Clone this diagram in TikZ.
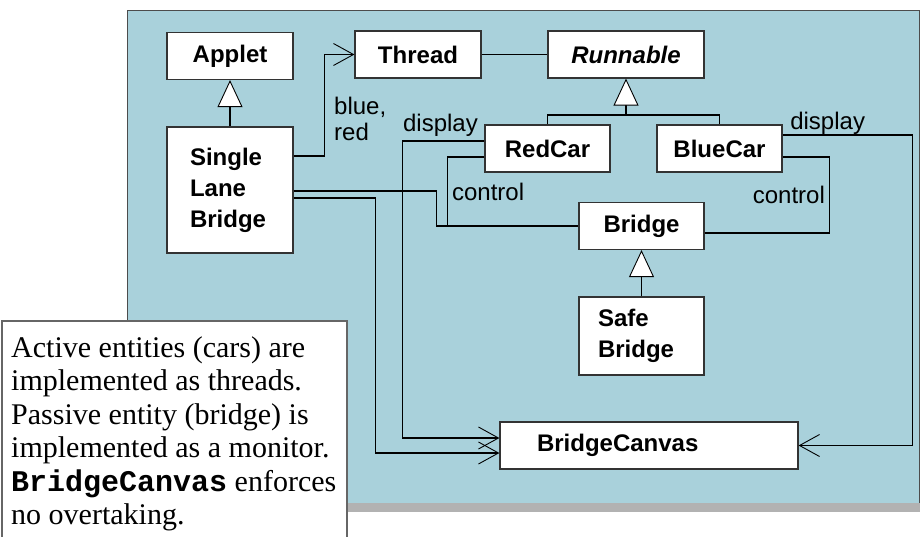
\documentclass[tikz,border=0pt]{standalone}
\usepackage{fontspec}
\setmainfont{Liberation Serif}
\setsansfont{Liberation Sans}
\setmonofont{Liberation Mono}
\usepackage{tikz}
\usetikzlibrary{arrows.meta, calc}
\definecolor{panelblue}{RGB}{169,209,219}

\begin{document}
\begin{tikzpicture}[
  x=1pt, y=-1pt,
  cls/.style={rectangle, draw=black!80, fill=white, line width=1.2pt,
    font=\sffamily\bfseries\fontsize{24}{31}\selectfont, inner sep=0pt,
    minimum width=126pt, minimum height=47pt},
  lbl/.style={font=\sffamily\fontsize{24}{26}\selectfont, inner sep=0pt, align=left},
  conn/.style={line width=1.4pt},
  assoc/.style={conn, -{Straight Barb[length=20pt, width=22pt, line width=0.9pt]}},
  inh/.style={conn, -{Triangle[length=27pt, width=25pt, fill=white, line width=0.9pt]}},
  note/.style={font=\fontsize{30}{33.5}\selectfont, align=left, inner sep=0pt}
]
\useasboundingbox (0,0) rectangle (920,537);
\clip (0,0) rectangle (920,537);
\fill[white] (0,0) rectangle (920,537);
\filldraw[fill=panelblue, draw=black!70, line width=1pt] (127,11) rectangle (919,503);
\fill[black!30] (127,503) rectangle (920,512);

\node[cls] (applet) at (230,56) {Applet};
\node[cls] (thread) at (418,54.5) {Thread};
\node[cls, minimum width=156pt] (runnable) at (626,54.5) {\itshape Runnable};
\node[cls, minimum height=126pt, text width=80pt, align=left] (slb) at (230,190) {Single\\Lane\\Bridge};
\node[cls, minimum width=125pt] (redcar) at (547.5,148.5) {RedCar};
\node[cls, minimum width=125pt] (bluecar) at (719.5,148.5) {BlueCar};
\node[cls, minimum width=125pt] (bridge) at (641.5,226) {Bridge};
\node[cls, minimum width=125pt, minimum height=78pt, text width=87pt, align=left] (safe) at (641.5,336) {Safe\\Bridge};
\node[cls, minimum width=298pt, text width=224pt, align=left] (canvas) at (649,445.5) {BridgeCanvas};
\coordinate (rjoin) at (626,115);

\draw[inh] (slb) -- (applet);
\draw[inh] (safe) -- (bridge);
\draw[conn] (redcar.north) |- (rjoin) -| (bluecar.north);
\draw[inh] (rjoin) -- (runnable);
\draw[conn] (thread) -- (runnable);

\draw[assoc] ([yshift=34pt]slb.east) -- ++(31,0) |- (thread.west);
\node[lbl, anchor=north west] (bluered) at (334,97) {blue,\\red};
\draw[conn] ([yshift=-1pt]slb.east) -- ++(143,0) |- (bridge.west);
\draw[assoc] ([yshift=-8pt]slb.east) -- ++(82,0) |- ([yshift=-7.5pt]canvas.west);

\draw[assoc] ([yshift=7.5pt]redcar.west) -- ++(-82,0)
  node[lbl, anchor=base west, yshift=9pt] (rdisp) {display} |- ([yshift=7.5pt]canvas.west);
\draw[conn] ([yshift=-8.5pt]redcar.west) -- ++(-37,0)
  |- node[lbl, pos=0.25, anchor=west, xshift=4pt] (rctl) {control} (bridge.west);
\draw[conn] ([yshift=-8.5pt]bluecar.east) -- ++(47,0)
  |- node[lbl, pos=0.25, anchor=east, xshift=-4pt] (bctl) {control} ([yshift=-7pt]bridge.east);
\draw[assoc] ([yshift=13.5pt]bluecar.east) -- ++(130,0)
  node[lbl, pos=0, anchor=base west, xshift=7pt, yshift=5pt] (bdisp) {display} |- (canvas.east);

\draw[draw=black!60, fill=white, line width=1.2pt] (2,321) rectangle (347,560);
\node[note, anchor=north west] (remark) at (11,336) {Active entities (cars) are\\implemented as threads.\\Passive entity (bridge) is\\implemented as a monitor.\\\texttt{\bfseries BridgeCanvas} enforces\\no overtaking.};
\end{tikzpicture}
\end{document}
